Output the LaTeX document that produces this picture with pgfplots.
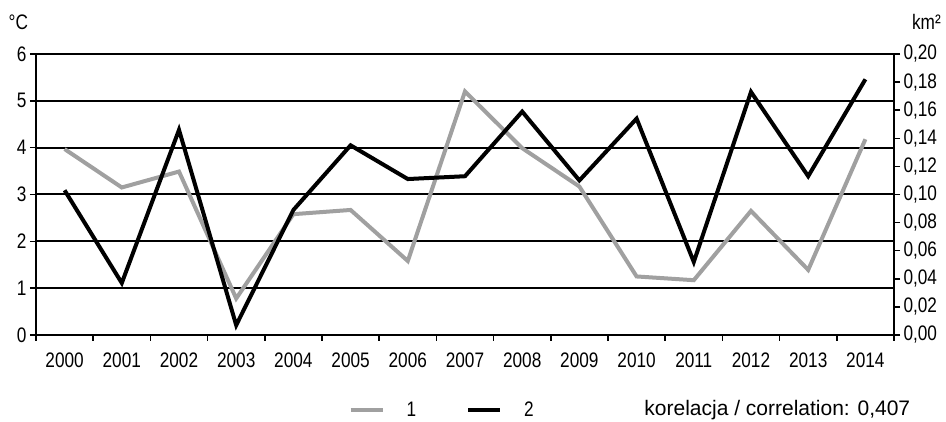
\documentclass[border=0pt]{standalone}
\usepackage{fontspec}
\setmainfont{Liberation Sans}
\newfontfamily\narrow[FakeStretch=0.82]{Liberation Sans}
\usepackage{pgfplots}
\pgfplotsset{compat=1.18}
\definecolor{sgray}{RGB}{160,160,160}
\begin{document}
\begin{tikzpicture}
\path[use as bounding box] (-36pt,-87pt) rectangle (910pt,335pt);
\begin{axis}[
  width=858pt, height=281pt, scale only axis,
  xmin=-0.5, xmax=14.5, ymin=0, ymax=6,
  xtick={0,...,14},
  xticklabels={2000,2001,2002,2003,2004,2005,2006,2007,2008,2009,2010,2011,2012,2013,2014},
  major x tick style={draw=none},
  minor xtick={-0.5,0.5,...,14.5},
  ytick={0,...,6},
  tick pos=left,
  tick align=outside,
  major tick length=6pt, minor tick length=6pt,
  every tick/.style={black, line width=1.5pt},
  ymajorgrids, grid style={black, line width=2pt},
  axis line style={black, line width=2pt},
  tick label style={font=\fontsize{21}{24}\selectfont\narrow},
  /pgf/number format/assume math mode=true,
  xticklabel style={yshift=-8pt},
  legend columns=2,
  legend style={draw=none, fill=none, at={(axis description cs:0.364,-0.267)}, anchor=west,
    font=\fontsize{21}{24}\selectfont\narrow, inner sep=0pt,
    /tikz/every even column/.append style={column sep=48pt}},
  legend image code/.code={\draw[#1] (0pt,0pt) -- (32pt,0pt);},
  clip=false,
]
\addlegendimage{sgray, line width=4pt}
\addlegendentry{\hspace{20pt}1}
\addlegendimage{black, line width=4pt}
\addlegendentry{\hspace{20pt}2}
\addplot[sgray, line width=4pt, line join=miter] coordinates {
(0,3.97) (1,3.15) (2,3.49) (3,0.78) (4,2.58) (5,2.67) (6,1.58) (7,5.20)
(8,3.99) (9,3.17) (10,1.25) (11,1.17) (12,2.65) (13,1.39) (14,4.18)};
\node[anchor=west, font=\fontsize{21}{24}\selectfont\narrow] at (axis description cs:-0.036,1.114) {°C};
\node[anchor=west, font=\fontsize{21}{24}\selectfont\narrow] at (axis description cs:1.017,1.114) {km²};
\node[anchor=west, font=\fontsize{21}{24}\selectfont] at (axis description cs:0.705,-0.267) {korelacja / correlation: 0,407};
\end{axis}
\begin{axis}[
  width=858pt, height=281pt, scale only axis,
  xmin=-0.5, xmax=14.5, ymin=0, ymax=0.2,
  axis x line=none, axis y line*=right,
  ytick={0,0.02,0.04,0.06,0.08,0.10,0.12,0.14,0.16,0.18,0.20},
  scaled y ticks=false,
  tick align=outside, major tick length=6pt,
  every tick/.style={black, line width=1.5pt},
  axis line style={black, line width=2pt, -},
  yticklabel style={font=\fontsize{21}{24}\selectfont\narrow,
    /pgf/number format/.cd, fixed, fixed zerofill, precision=2, use comma, assume math mode=true},
]
\addplot[black, line width=4pt, line join=miter] coordinates {
(0,0.103) (1,0.037) (2,0.146) (3,0.007) (4,0.089) (5,0.135) (6,0.111) (7,0.113)
(8,0.159) (9,0.110) (10,0.154) (11,0.052) (12,0.173) (13,0.113) (14,0.182)};
\end{axis}
\end{tikzpicture}
\end{document}
